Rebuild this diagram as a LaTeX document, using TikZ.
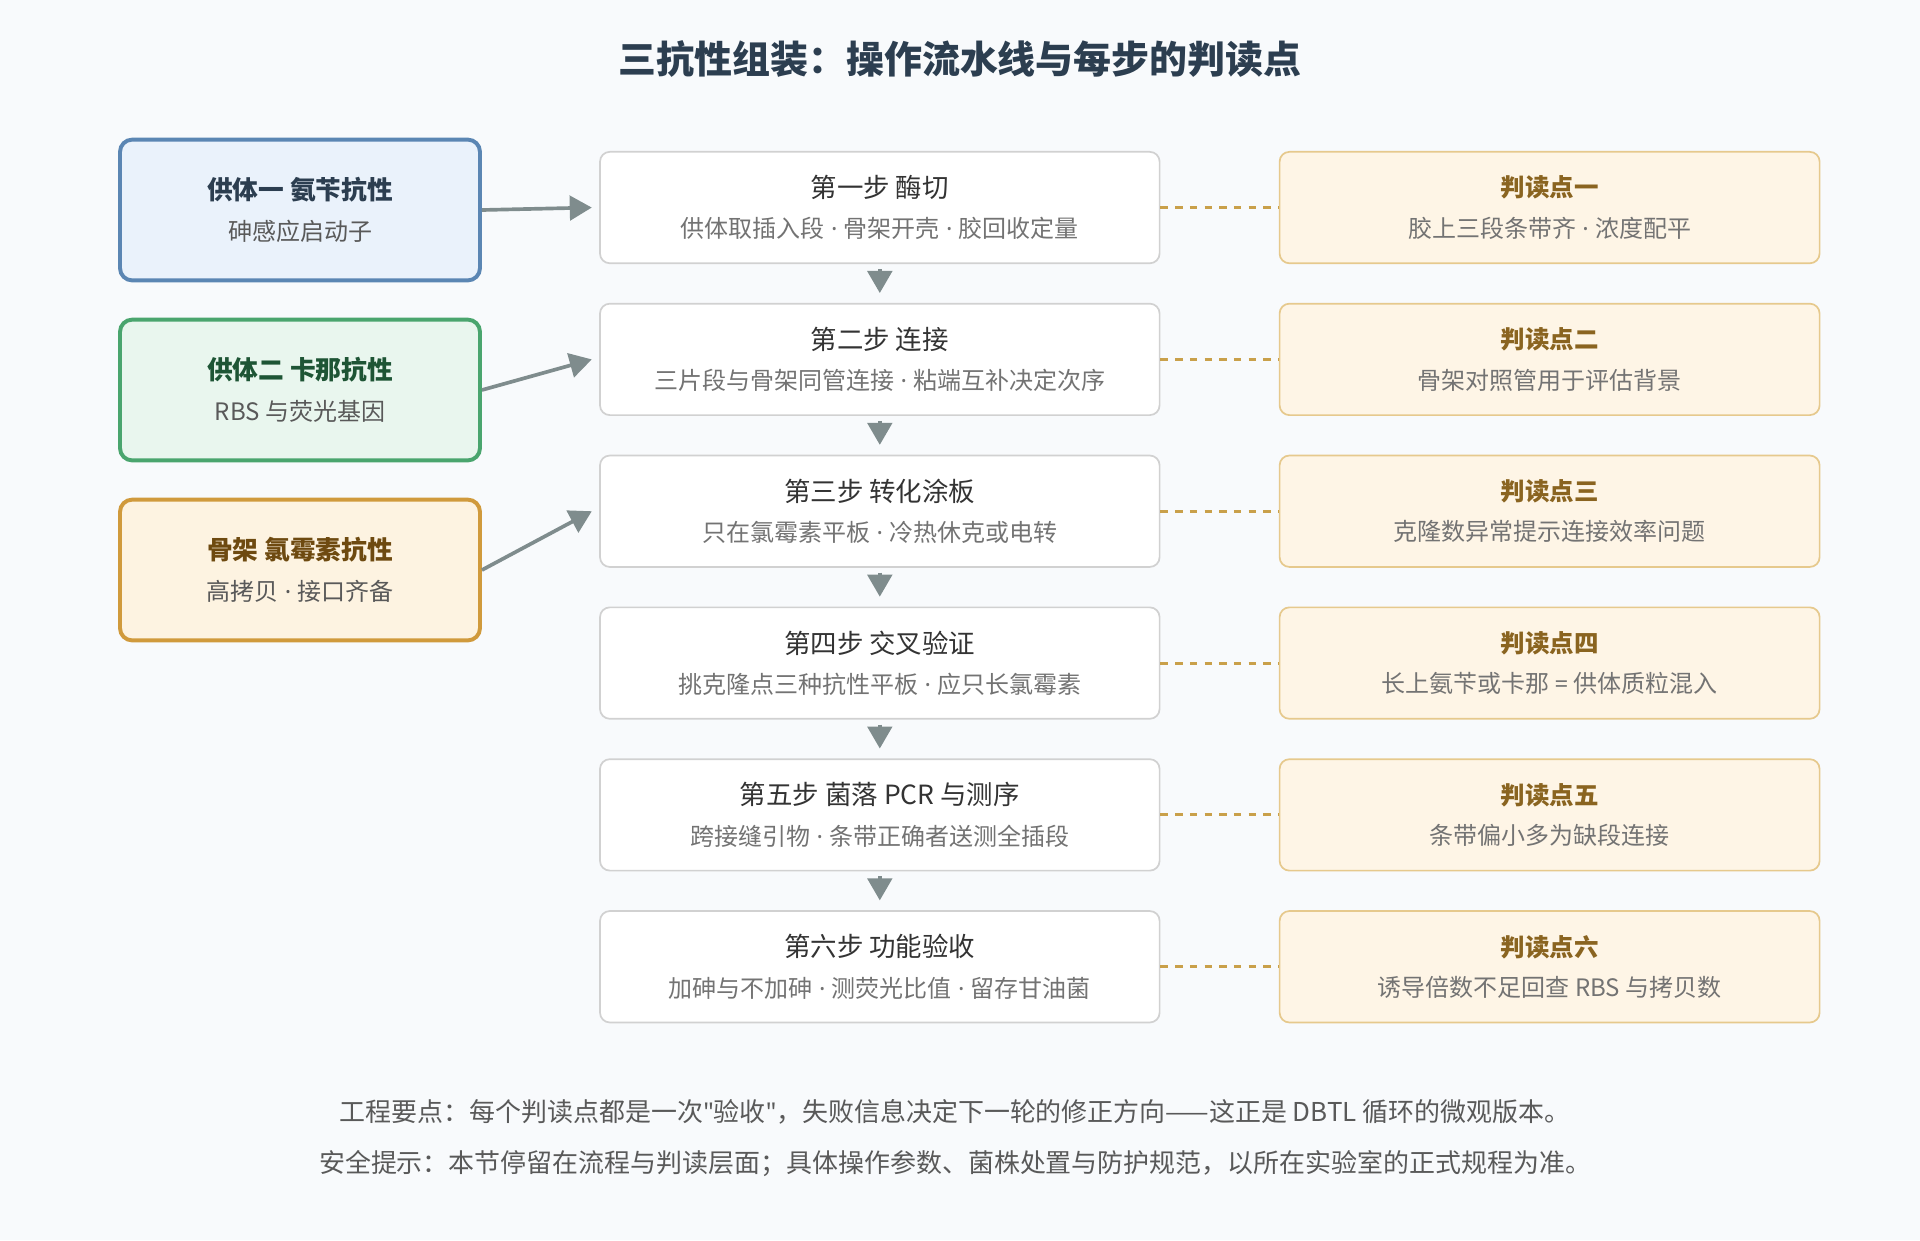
\documentclass[tikz,border=0pt]{standalone}
\usepackage{fontspec}
\setmainfont{Noto Sans CJK SC}
\newfontfamily\lat{Noto Sans}
\usetikzlibrary{arrows.meta}
\definecolor{bg}{HTML}{F8FAFC}
\definecolor{ttl}{HTML}{2C3E50}
\definecolor{arr}{HTML}{7F8C8D}
\definecolor{dash}{HTML}{C9A04A}
\definecolor{b1d}{HTML}{5B86B3}\definecolor{b1f}{HTML}{EAF2FB}
\definecolor{b2d}{HTML}{4AA56E}\definecolor{b2f}{HTML}{E9F6EE}\definecolor{b2t}{HTML}{1E5535}
\definecolor{b3d}{HTML}{D09A3C}\definecolor{b3f}{HTML}{FDF3E1}\definecolor{b3t}{HTML}{6E4A10}
\definecolor{rd}{HTML}{E6C98D}\definecolor{rf}{HTML}{FEF5E6}\definecolor{rtt}{HTML}{8A6420}
\tikzset{
 lbox/.style={draw, line width=1.6pt, rounded corners=5pt, minimum width=147pt, minimum height=57.5pt, align=center},
 cbox/.style={draw=black!18, fill=white, line width=0.7pt, rounded corners=4pt, minimum width=228.5pt, minimum height=45.5pt, align=center},
 rbox/.style={draw=rd, fill=rf, line width=0.7pt, rounded corners=4pt, minimum width=220.5pt, minimum height=45.5pt, align=center},
 garr/.style={draw=arr, line width=1.5pt, -{Triangle[length=9pt,width=10pt]}},
 dl/.style={draw=dash, line width=1.2pt, dash pattern=on 3pt off 3pt},
}
\newcommand{\md}{{\lat\ ·\ }}
\newcommand{\lt}[3]{{\fontsize{10.5}{13}\selectfont\bfseries\color{#1}#2}\\[4.5pt]{\fontsize{9.8}{11}\selectfont\color{black!65}#3}}
\newcommand{\ct}[2]{{\fontsize{10.8}{13}\selectfont\color{black!80}#1}\\[4.5pt]{\fontsize{9.8}{11}\selectfont\color{black!55}#2}}
\newcommand{\rt}[2]{{\fontsize{10}{13}\selectfont\bfseries\color{rtt}#1}\\[4.5pt]{\fontsize{9.8}{11}\selectfont\color{black!55}#2}}
\begin{document}
\begin{tikzpicture}[x=0.5pt,y=-0.5pt]
\fill[bg] (0,0) rectangle (1568,1013);
\useasboundingbox (0,0) rectangle (1568,1013);
\node[font=\fontsize{15.5}{18}\selectfont\bfseries, text=ttl] (title) at (784,48) {三抗性组装：操作流水线与每步的判读点};
% left
\node[lbox, draw=b1d, fill=b1f] (l1) at (245,171.5) {\lt{ttl}{供体一 氨苄抗性}{砷感应启动子}};
\node[lbox, draw=b2d, fill=b2f] (l2) at (245,318.5) {\lt{b2t}{供体二 卡那抗性}{RBS 与荧光基因}};
\node[lbox, draw=b3d, fill=b3f] (l3) at (245,465.5) {\lt{b3t}{骨架 氯霉素抗性}{高拷贝\md 接口齐备}};
% center
\node[cbox] (c1) at (718.5,169.5) {\ct{第一步 酶切}{供体取插入段\md 骨架开壳\md 胶回收定量}};
\node[cbox] (c2) at (718.5,293.5) {\ct{第二步 连接}{三片段与骨架同管连接\md 粘端互补决定次序}};
\node[cbox] (c3) at (718.5,417.5) {\ct{第三步 转化涂板}{只在氯霉素平板\md 冷热休克或电转}};
\node[cbox] (c4) at (718.5,541.5) {\ct{第四步 交叉验证}{挑克隆点三种抗性平板\md 应只长氯霉素}};
\node[cbox] (c5) at (718.5,665.5) {\ct{第五步 菌落 PCR 与测序}{跨接缝引物\md 条带正确者送测全插段}};
\node[cbox] (c6) at (718.5,789.5) {\ct{第六步 功能验收}{加砷与不加砷\md 测荧光比值\md 留存甘油菌}};
% right
\node[rbox] (r1) at (1265.5,169.5) {\rt{判读点一}{胶上三段条带齐\md 浓度配平}};
\node[rbox] (r2) at (1265.5,293.5) {\rt{判读点二}{骨架对照管用于评估背景}};
\node[rbox] (r3) at (1265.5,417.5) {\rt{判读点三}{克隆数异常提示连接效率问题}};
\node[rbox] (r4) at (1265.5,541.5) {\rt{判读点四}{长上氨苄或卡那 {\lat =} 供体质粒混入}};
\node[rbox] (r5) at (1265.5,665.5) {\rt{判读点五}{条带偏小多为缺段连接}};
\node[rbox] (r6) at (1265.5,789.5) {\rt{判读点六}{诱导倍数不足回查 RBS 与拷贝数}};
\foreach \a/\b in {c1/c2,c2/c3,c3/c4,c4/c5,c5/c6}{\draw[garr,shorten <=2pt,shorten >=4pt] (\a.south) -- (\b.north);}
\foreach \i in {1,...,6}{\draw[dl] (c\i.east) -- (r\i.west);}
\draw[garr] (l1.east) -- ([xshift=-3pt]c1.west);
\draw[garr] (l2.east) -- ([xshift=-3pt]c2.west);
\draw[garr] (l3.east) -- ([xshift=-3pt]c3.west);
\node[font=\fontsize{10.6}{12}\selectfont, text=black!65] (f1) at (780,908) {工程要点：每个判读点都是一次{\lat"}验收{\lat"}，失败信息决定下一轮的修正方向——这正是 DBTL 循环的微观版本。};
\node[font=\fontsize{10.6}{12}\selectfont, text=black!65] (f2) at (780,950) {安全提示：本节停留在流程与判读层面；具体操作参数、菌株处置与防护规范，以所在实验室的正式规程为准。};
\end{tikzpicture}
\end{document}
